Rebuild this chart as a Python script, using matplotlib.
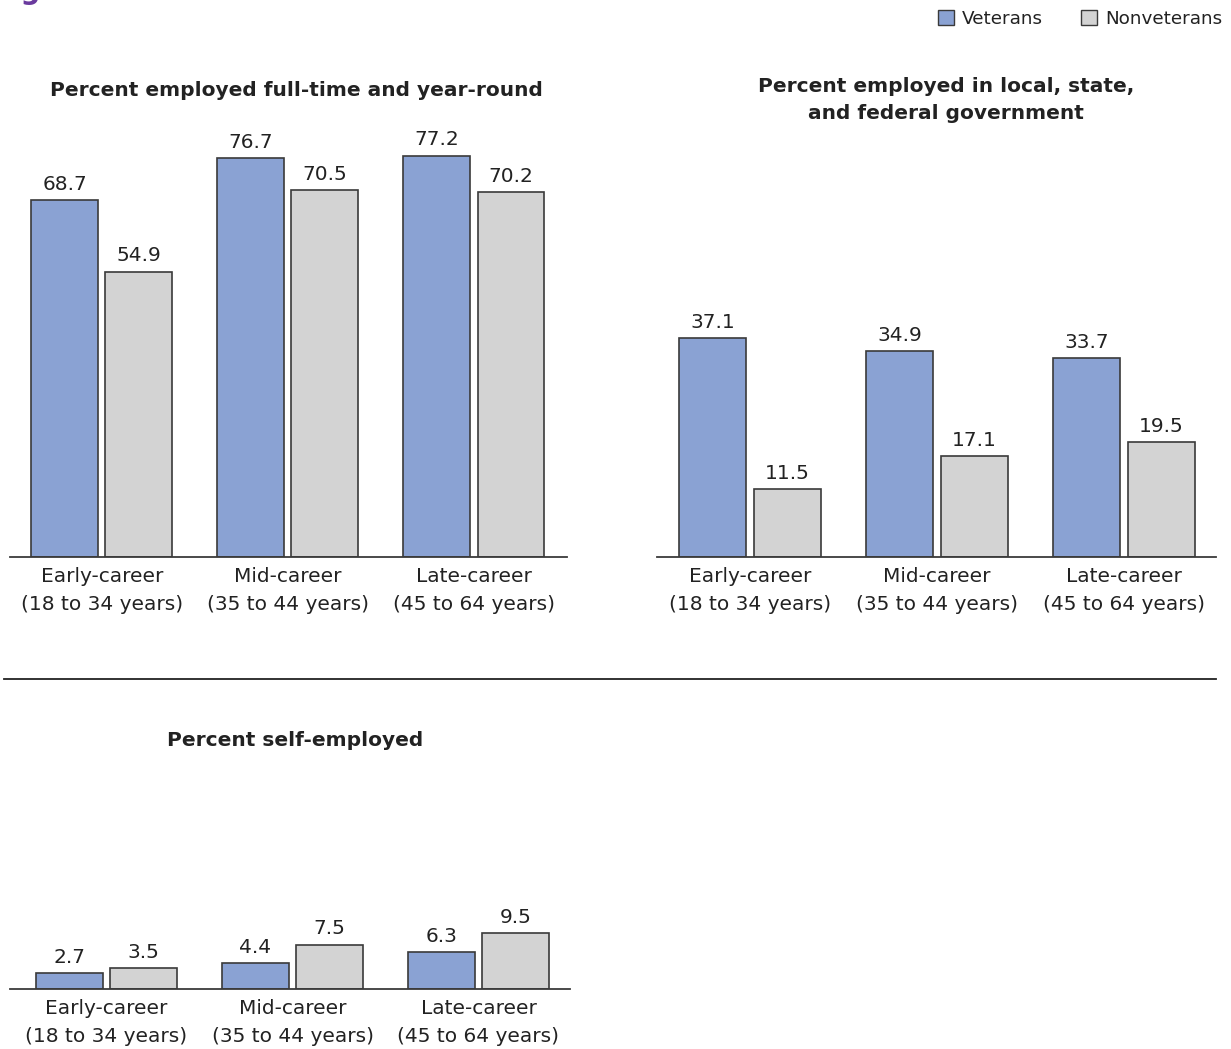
import matplotlib
matplotlib.use("Agg")
import matplotlib.pyplot as plt
from matplotlib.patches import Patch
import numpy as np

# Career stages shared by all three panels
categories = ["Early-career\n(18 to 34 years)",
              "Mid-career\n(35 to 44 years)",
              "Late-career\n(45 to 64 years)"]

# Percent employed full-time and year-round
fulltime_veterans = [68.7, 76.7, 77.2]
fulltime_nonveterans = [54.9, 70.5, 70.2]

# Percent employed in local, state, and federal government
gov_veterans = [37.1, 34.9, 33.7]
gov_nonveterans = [11.5, 17.1, 19.5]

# Percent self-employed
self_veterans = [2.7, 4.4, 6.3]
self_nonveterans = [3.5, 7.5, 9.5]

VET_COLOR = "#8aa2d3"
NONVET_COLOR = "#d3d3d3"
EDGE = "#3a3a3a"
TEXT = "#222222"

plt.rcParams["font.family"] = ["DejaVu Sans"]

W, H = 1231, 1049
fig = plt.figure(figsize=(W / 100, H / 100), dpi=100)


def axes_px(left, top, right, bottom):
    """Create axes from pixel edges measured from the top-left corner."""
    return fig.add_axes([left / W, 1 - bottom / H, (right - left) / W, (bottom - top) / H])


def panel(ax, vets, nonvets, ymax, xlim, title, title_xy):
    x = np.arange(len(categories))
    width = 0.36
    off = 0.2
    b1 = ax.bar(x - off, vets, width, color=VET_COLOR, edgecolor=EDGE, linewidth=1.2)
    b2 = ax.bar(x + off, nonvets, width, color=NONVET_COLOR, edgecolor=EDGE, linewidth=1.2)
    for bars, vals in ((b1, vets), (b2, nonvets)):
        for rect, v in zip(bars, vals):
            ax.annotate(f"{v:.1f}", (rect.get_x() + rect.get_width() / 2, v),
                        xytext=(0, 4.5), textcoords="offset points",
                        ha="center", va="bottom", fontsize=14.5, color=TEXT)
    ax.set_ylim(0, ymax)
    ax.set_xlim(*xlim)
    ax.set_xticks(x)
    ax.set_xticklabels(categories, fontsize=14.5, color=TEXT, linespacing=1.57)
    ax.tick_params(axis="x", length=0, pad=7.5)
    ax.set_yticks([])
    for s in ("top", "right", "left"):
        ax.spines[s].set_visible(False)
    ax.spines["bottom"].set_color(EDGE)
    ax.spines["bottom"].set_linewidth(1.3)
    fig.text(title_xy[0] / W, 1 - title_xy[1] / H, title, ha="center", va="center",
             fontsize=14.5, fontweight="bold", color=TEXT, linespacing=1.5)


# Top-left panel: full-time, year-round employment
ax1 = axes_px(10, 130, 567, 557)
panel(ax1, fulltime_veterans, fulltime_nonveterans, 427 / 5.2, (-0.493, 2.501),
      "Percent employed full-time and year-round", (296, 90))

# Top-right panel: government employment
ax2 = axes_px(657, 130, 1216, 557)
panel(ax2, gov_veterans, gov_nonveterans, 427 / 5.9, (-0.496, 2.493),
      "Percent employed in local, state,\nand federal government", (946, 100))

# Bottom panel: self-employment
ax3 = axes_px(10, 789, 570, 989)
panel(ax3, self_veterans, self_nonveterans, 200 / 5.9, (-0.519, 2.492),
      "Percent self-employed", (295, 741))

# Divider between the two rows
fig.add_artist(plt.Line2D([4 / W, 1216 / W], [1 - 679 / H, 1 - 679 / H],
                          color="#222222", linewidth=1.3))

# Figure heading, running off the top edge
fig.text(-8 / W, 1 + 1 / H, "Figure 3", ha="left", va="baseline",
         fontsize=20, fontweight="bold", color="#6a3a9e")

# Legend
handles = [Patch(facecolor=VET_COLOR, edgecolor=EDGE, label="Veterans"),
           Patch(facecolor=NONVET_COLOR, edgecolor=EDGE, label="Nonveterans")]
fig.legend(handles=handles, loc="upper right", bbox_to_anchor=(1226 / W, 1 - 6 / H),
           ncol=2, frameon=False, fontsize=13.2, handlelength=0.85, handleheight=0.85,
           handletextpad=0.45, columnspacing=2.1, labelcolor=TEXT,
           borderaxespad=0, borderpad=0.2)

fig.savefig("out.png", dpi=100)
